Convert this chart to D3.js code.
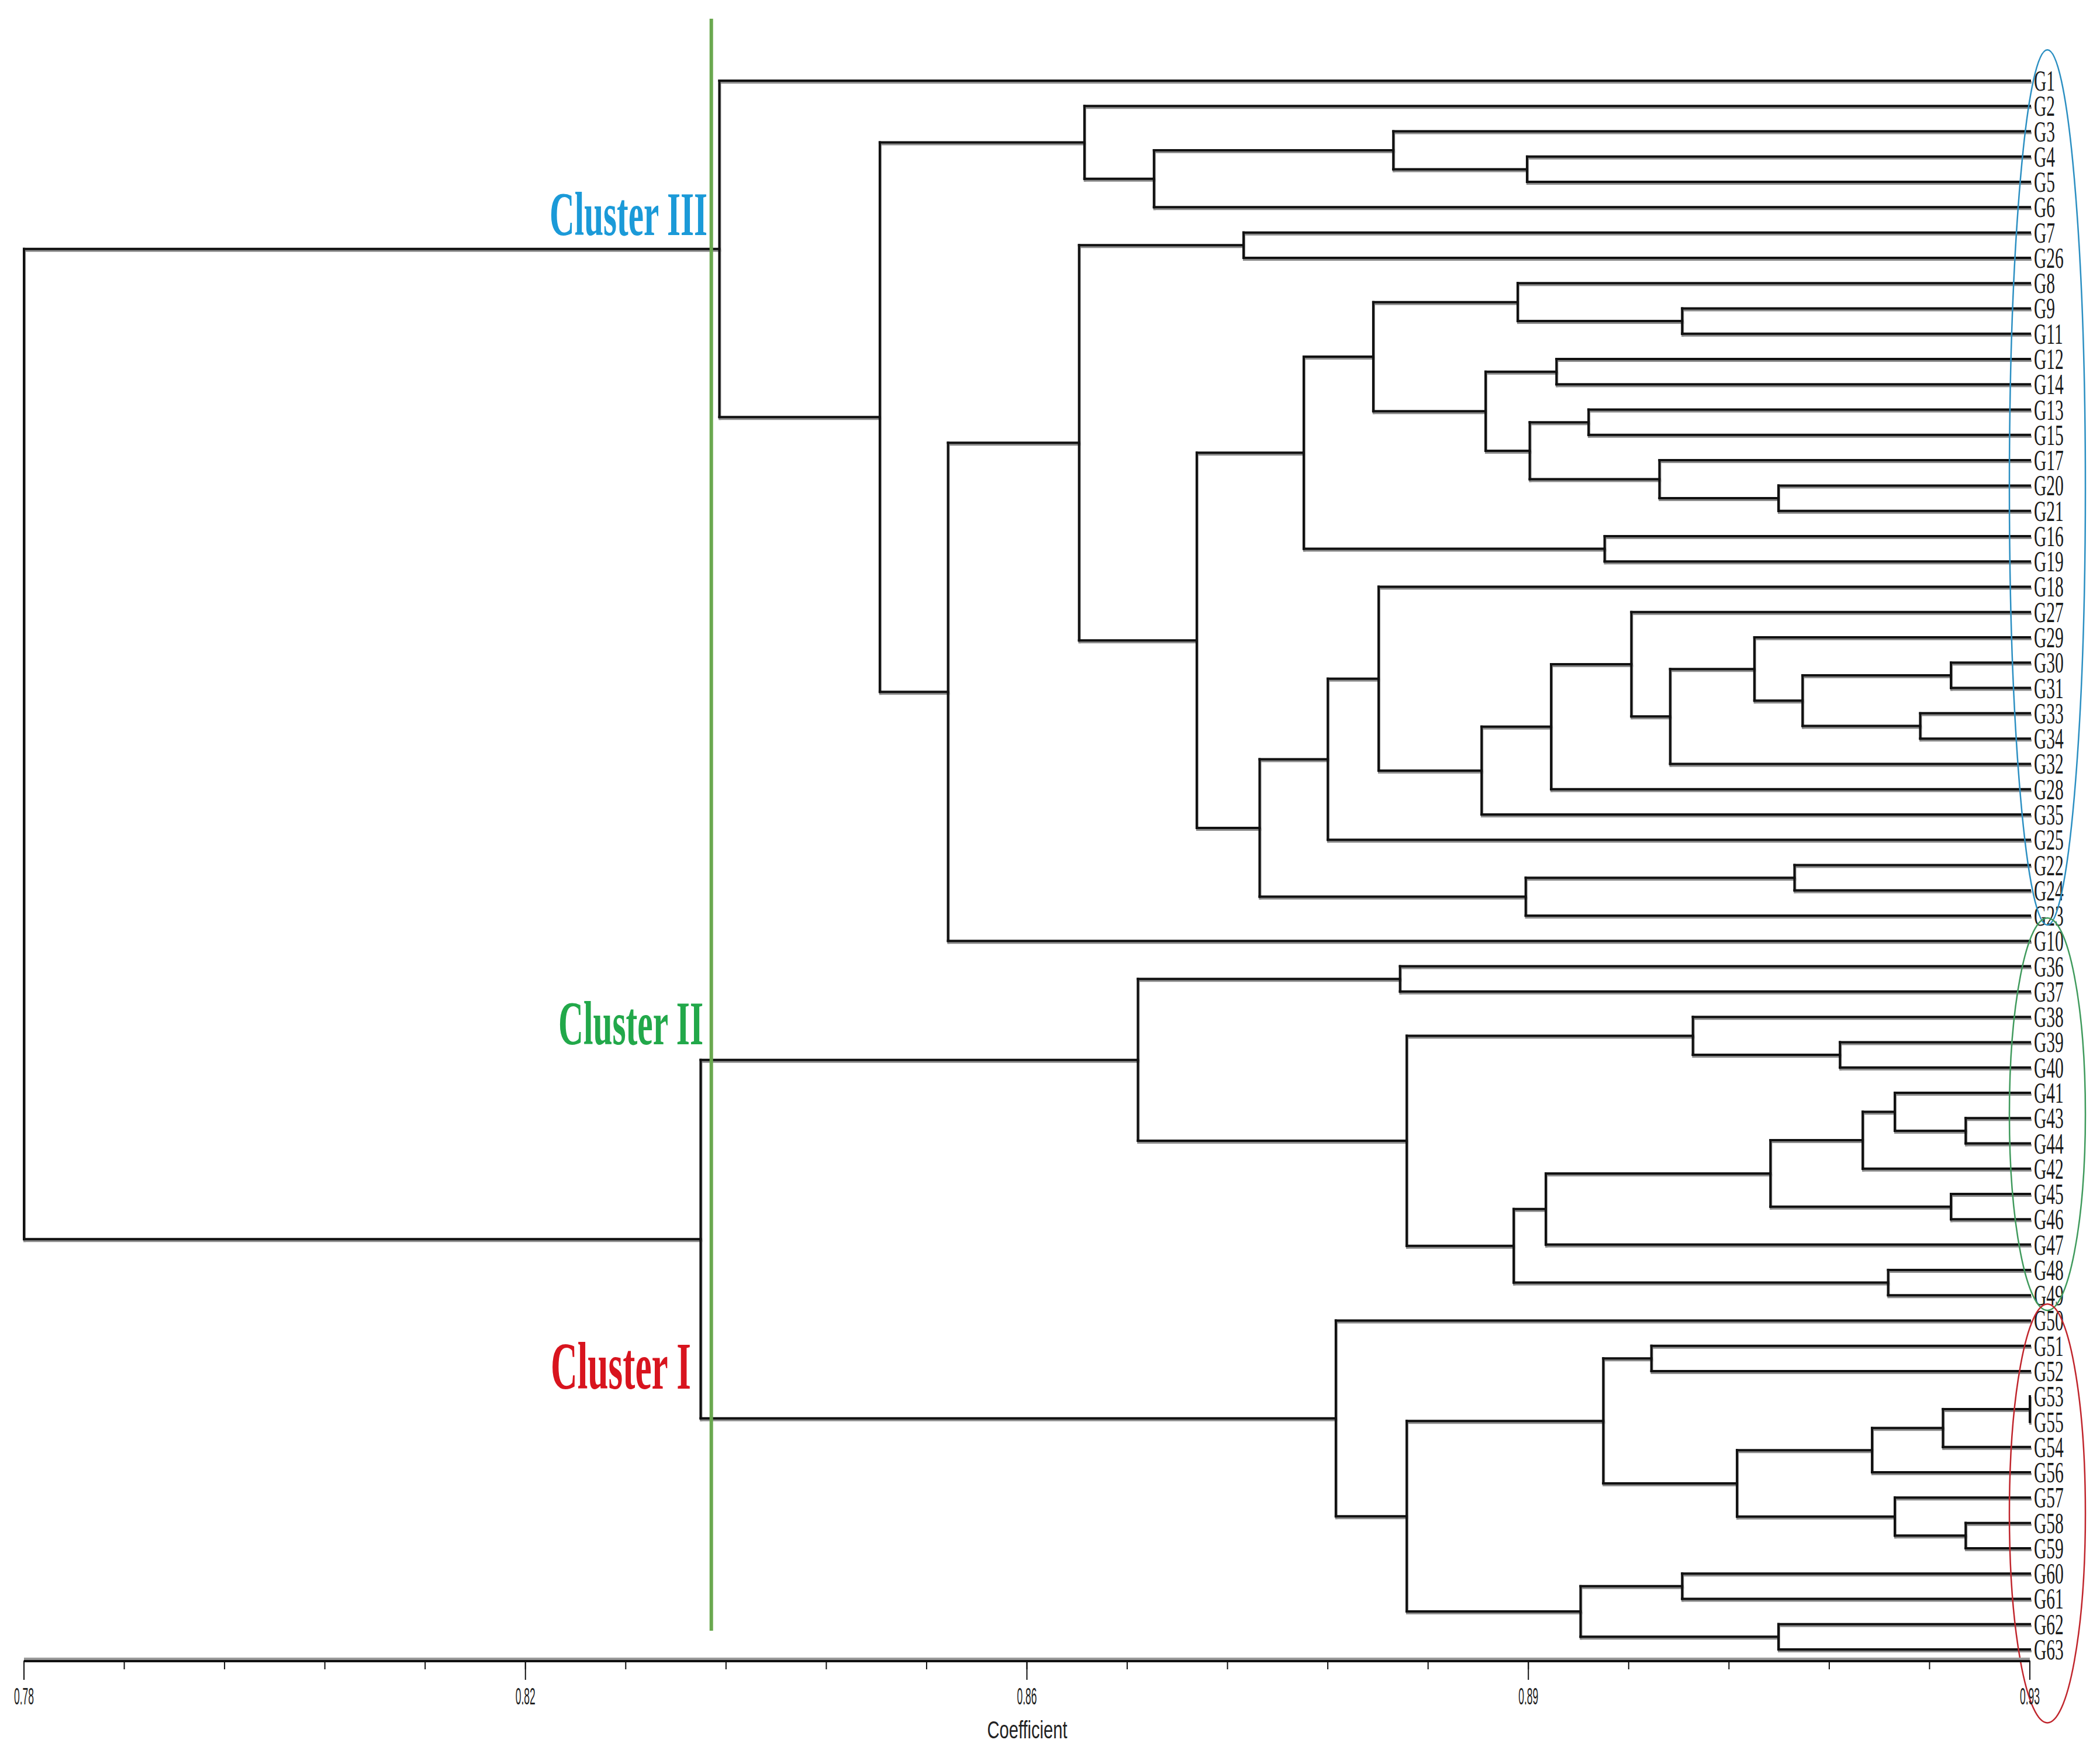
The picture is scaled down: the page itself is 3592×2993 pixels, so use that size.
<!DOCTYPE html>
<html><head><meta charset="utf-8">
<script src="https://cdn.jsdelivr.net/npm/d3@7"></script>
<style>html,body{margin:0;padding:0;background:#fff;}</style>
</head><body>
<script>
// ---------------- DATA ----------------
const leaves = ["G1","G2","G3","G4","G5","G6","G7","G26","G8","G9","G11","G12","G14","G13","G15","G17","G20","G21","G16","G19","G18","G27","G29","G30","G31","G33","G34","G32","G28","G35","G25","G22","G24","G23","G10",
"G36","G37","G38","G39","G40","G41","G43","G44","G42","G45","G46","G47","G48","G49",
"G50","G51","G52","G53","G55","G54","G56","G57","G58","G59","G60","G61","G62","G63"];

// [node id, child A, child B, similarity coefficient at which they join]
const merges = [
 ["n1","G4","G5",0.8924],["n2","G3","n1",0.8824],["n3","n2","G6",0.8645],["n4","G2","n3",0.8593],
 ["n5","G7","G26",0.8712],["n6","G9","G11",0.9040],["n7","G8","n6",0.8917],["n8","G12","G14",0.8946],
 ["n9","G13","G15",0.8970],["n10","G20","G21",0.9112],["n11","G17","n10",0.9023],["n12","n9","n11",0.8926],
 ["n13","n8","n12",0.8893],["n14","n7","n13",0.8809],["n15","G16","G19",0.8982],["n16","n14","n15",0.8757],
 ["n17","G30","G31",0.9241],["n18","G33","G34",0.9218],["n19","n17","n18",0.9130],["n20","G29","n19",0.9094],
 ["n21","n20","G32",0.9031],["n22","G27","n21",0.9002],["n23","n22","G28",0.8942],["n24","n23","G35",0.8890],
 ["n25","G18","n24",0.8813],["n26","n25","G25",0.8775],["n27","G22","G24",0.9124],["n28","n27","G23",0.8923],
 ["n29","n26","n28",0.8724],["n30","n16","n29",0.8677],["n31","n5","n30",0.8589],["n32","n31","G10",0.8491],
 ["n33","n4","n32",0.8440],["n34","G1","n33",0.8320],
 ["m1","G36","G37",0.8829],["m2","G39","G40",0.9158],["m3","G38","m2",0.9048],["m4","G43","G44",0.9252],
 ["m5","G41","m4",0.9199],["m6","m5","G42",0.9175],["m7","G45","G46",0.9241],["m8","m6","m7",0.9106],
 ["m9","m8","G47",0.8938],["m10","G48","G49",0.9194],["m11","m9","m10",0.8914],["m12","m3","m11",0.8834],
 ["m13","m1","m12",0.8633],
 ["k1","G53","G55",0.9300],["k2","k1","G54",0.9235],["k3","k2","G56",0.9182],["k4","G58","G59",0.9252],
 ["k5","G57","k4",0.9199],["k6","k3","k5",0.9081],["k7","G51","G52",0.9017],["k8","k7","k6",0.8981],
 ["k9","G60","G61",0.9040],["k10","G62","G63",0.9112],["k11","k9","k10",0.8964],["k12","k8","k11",0.8834],
 ["k13","G50","k12",0.8781],["k14","m13","k13",0.8306],["root","n34","k14",0.7800]
];

const axisDomain = [0.78, 0.93];
const majorTicks = [0.78, 0.8175, 0.855, 0.8925, 0.93];
const majorTickLabels = ["0.78","0.82","0.86","0.89","0.93"];
const minorStep = 0.0075;
const axisTitle = "Coefficient";
const cutLevel = 0.8314;
const clusterNames = ["Cluster III","Cluster II","Cluster I"];
const clusterFirstLeaf = ["G1","G10","G50"];
const clusterLastLeaf = ["G23","G49","G63"];

// ---------------- LAYOUT / STYLE ----------------
const W = 3592, H = 2993;
const clusterColors = ["#1b9ad8","#22a84a","#d8141e"];
const ellipseColors = ["#2b8fc2","#3f9a5c","#c0252c"];
const ellipsePad = [[1.22,0.37],[0.91,0.6],[0.65,2.9]]; // leaf-index padding top/bottom
const clusterLabelPos = [[1210,402,106],[1203,1786,106],[1182,2375,114]]; // right x, baseline y, font size

const x = d3.scaleLinear().domain(axisDomain).range([41, 3472]);
const y = d3.scaleLinear().domain([0, leaves.length-1]).range([138, 2821]);

const svg = d3.select("body").append("svg").attr("width",W).attr("height",H)
  .style("display","block").style("background","#fff");

// node positions
const pos = {};
leaves.forEach((l,i)=>{ pos[l] = {y:y(i), h:axisDomain[1], idx:i}; });
merges.forEach(([id,a,b,h])=>{ pos[id] = {y:(pos[a].y+pos[b].y)/2, h:h}; });

const segs = [];
merges.forEach(([id,a,b,h])=>{
  const xn = x(h);
  segs.push([xn,pos[a].y,xn,pos[b].y]);
  [a,b].forEach(c=>{ segs.push([xn,pos[c].y,x(pos[c].h),pos[c].y]); });
});

const gTree = svg.append("g");
gTree.selectAll("line.sh").data(segs).join("line").attr("class","sh")
  .attr("x1",d=>d[0]+1).attr("y1",d=>d[1]+3).attr("x2",d=>d[2]+1).attr("y2",d=>d[3]+3)
  .attr("stroke","#8c8c8c").attr("stroke-width",4).attr("stroke-linecap","square");
gTree.selectAll("line.ln").data(segs).join("line").attr("class","ln")
  .attr("x1",d=>d[0]).attr("y1",d=>d[1]).attr("x2",d=>d[2]).attr("y2",d=>d[3])
  .attr("stroke","#111").attr("stroke-width",4).attr("stroke-linecap","square");

// leaf labels
const gLab = svg.append("g");
gLab.selectAll("text").data(leaves).join("text")
  .attr("transform",(d,i)=>`translate(${x(axisDomain[1])+7},${y(i)+17}) scale(0.59,1)`)
  .attr("font-family","'Liberation Serif','Times New Roman',serif")
  .attr("font-size",50).attr("fill","#1a1a1a").text(d=>d);

// ellipses
clusterNames.forEach((c,i)=>{
  const i0 = leaves.indexOf(clusterFirstLeaf[i]) - ellipsePad[i][0];
  const i1 = leaves.indexOf(clusterLastLeaf[i]) + ellipsePad[i][1];
  const cy = (y(i0)+y(i1))/2, ry = (y(i1)-y(i0))/2;
  svg.append("ellipse").attr("cx",3502).attr("cy",cy).attr("rx",65).attr("ry",ry)
    .attr("fill","none").attr("stroke",ellipseColors[i]).attr("stroke-width",2.5);
});

// cut line
svg.append("line").attr("x1",x(cutLevel)).attr("x2",x(cutLevel)).attr("y1",32).attr("y2",2789)
  .attr("stroke","#6aa84f").attr("stroke-width",6);

// cluster labels
clusterNames.forEach((c,i)=>{
  const [rx,by,fs] = clusterLabelPos[i];
  const w = i===0?270:(i===1?248:240);
  svg.append("text").attr("x",rx-w).attr("y",by)
    .attr("font-family","'Liberation Serif','Times New Roman',serif").attr("font-weight","bold")
    .attr("font-size",fs).attr("fill",clusterColors[i])
    .attr("textLength",w).attr("lengthAdjust","spacingAndGlyphs").text(c);
});

// axis
const axY = 2840;
const gAx = svg.append("g");
gAx.append("line").attr("x1",x(axisDomain[0])).attr("x2",x(axisDomain[1])).attr("y1",axY-3).attr("y2",axY-3)
  .attr("stroke","#9a9a9a").attr("stroke-width",4);
gAx.append("line").attr("x1",x(axisDomain[0])).attr("x2",x(axisDomain[1])).attr("y1",axY+1).attr("y2",axY+1)
  .attr("stroke","#111").attr("stroke-width",4);
const minors = d3.range(0, Math.round((axisDomain[1]-axisDomain[0])/minorStep)+1).map(k=>axisDomain[0]+k*minorStep);
gAx.selectAll("line.mi").data(minors).join("line").attr("class","mi")
  .attr("x1",d=>x(d)).attr("x2",d=>x(d)).attr("y1",axY).attr("y2",axY+15)
  .attr("stroke","#111").attr("stroke-width",2);
gAx.selectAll("line.ma").data(majorTicks).join("line").attr("class","ma")
  .attr("x1",d=>x(d)).attr("x2",d=>x(d)).attr("y1",axY).attr("y2",axY+33)
  .attr("stroke","#111").attr("stroke-width",2);
gAx.selectAll("text.tl").data(majorTicks).join("text").attr("class","tl")
  .attr("x",d=>x(d)-17).attr("y",2915)
  .attr("font-family","'Liberation Sans',Arial,sans-serif").attr("font-size",40).attr("fill","#222")
  .attr("textLength",34).attr("lengthAdjust","spacingAndGlyphs")
  .text((d,i)=>majorTickLabels[i]);
gAx.append("text").attr("x",x(0.855)-68).attr("y",2973)
  .attr("font-family","'Liberation Sans',Arial,sans-serif").attr("font-size",42).attr("fill","#222")
  .attr("textLength",137).attr("lengthAdjust","spacingAndGlyphs").text(axisTitle);
</script>
</body></html>
